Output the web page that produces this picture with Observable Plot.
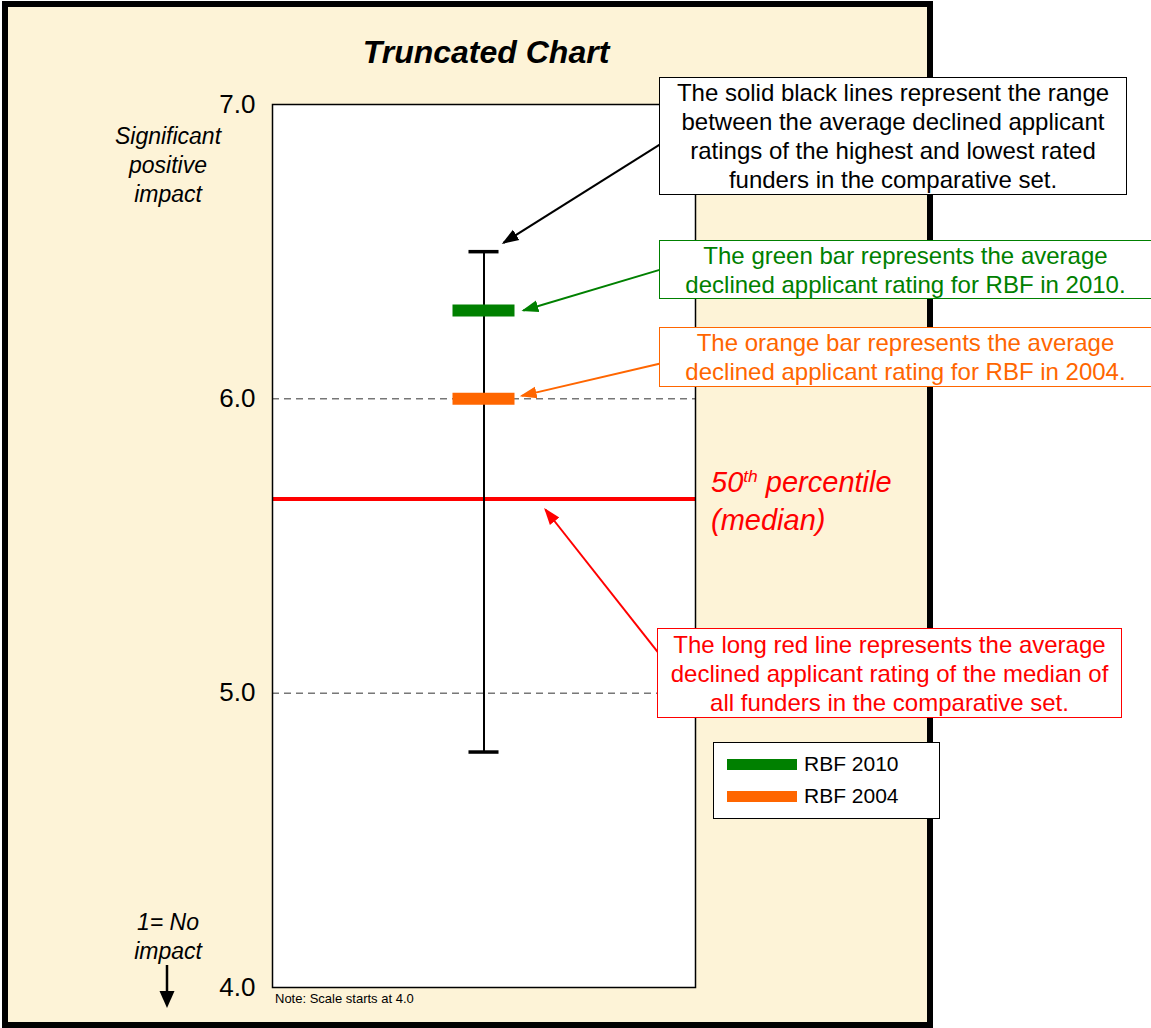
<!DOCTYPE html>
<html>
<head>
<meta charset="utf-8">
<script src="https://cdn.jsdelivr.net/npm/d3@7"></script>
<script src="https://cdn.jsdelivr.net/npm/@observablehq/plot@0.6"></script>
<style>
html,body{margin:0;padding:0;background:#fff;}
#wrap{position:relative;width:1151px;height:1028px;overflow:hidden;font-family:"Liberation Sans",Arial,Helvetica,sans-serif;color:#000;}
#panel{position:absolute;left:2px;top:1px;width:931px;height:1027px;box-sizing:border-box;border:6px solid #000;background:#FDF3D7;}
#chart{position:absolute;left:0;top:0;}
.abs{position:absolute;}
.title{left:0;width:972px;top:33px;text-align:center;font-size:32px;line-height:38px;font-weight:bold;font-style:italic;}
.side{width:200px;left:68px;text-align:center;font-size:23px;line-height:29px;font-style:italic;}
.note{left:275px;top:991px;font-size:13px;line-height:16px;}
.box{position:absolute;box-sizing:border-box;background:#fff;text-align:center;font-size:24px;line-height:29px;display:flex;align-items:center;justify-content:center;white-space:nowrap;}
.median{left:711px;top:463px;font-size:29px;line-height:38px;font-style:italic;color:#FF0000;}
.median sup{font-size:0.6em;line-height:0;vertical-align:0.55em;}
.legend{position:absolute;left:713px;top:742px;width:227px;height:77px;box-sizing:border-box;background:#fff;border:1.5px solid #000;}
.lg-item{position:absolute;left:13px;height:22px;font-size:21px;line-height:22px;}
.lg-sw{position:absolute;left:0;top:5.5px;width:70px;height:11px;}
.lg-tx{position:absolute;left:77px;top:0;white-space:nowrap;}
</style>
</head>
<body>
<div id="wrap">
  <div id="panel"></div>
  <div id="chart"></div>
</div>
<script>
// ---- data ----
const yTicks = [4, 5, 6, 7];
const gridValues = [5, 6];
const seriesNames = ["RBF 2010", "RBF 2004"];
const seriesValues = [6.30, 6.00];
const seriesColors = ["#008000", "#FF6600"];
const rangeHigh = 6.50;
const rangeLow = 4.80;
const medianValue = 5.66;
const titleText = "Truncated Chart";
const noteText = "Note: Scale starts at 4.0";
const boxTexts = [
  ["The solid black lines represent the range", "between the average declined applicant", "ratings of the highest and lowest rated", "funders in the comparative set."],
  ["The green bar represents the average", "declined applicant rating for RBF in 2010."],
  ["The orange bar represents the average", "declined applicant rating for RBF in 2004."],
  ["The long red line represents the average", "declined applicant rating of the median of", "all funders in the comparative set."]
];

// ---- layout (x is a 0..1 position across the plot frame; the single category sits at its centre) ----
const cx = 0.5;
const barHalf = 0.0733;
const capHalf = 0.0355;
const arrows = [
  {x1: 0.920, y1: 6.868, x2: 0.546, y2: rangeHigh + 0.03, color: "#000000"},
  {x1: 0.917, y1: 6.439, x2: 0.593, y2: seriesValues[0], color: seriesColors[0]},
  {x1: 0.917, y1: 6.120, x2: 0.589, y2: seriesValues[1] + 0.01, color: seriesColors[1]},
  {x1: 0.917, y1: 5.128, x2: 0.645, y2: medianValue - 0.036, color: "#FF0000"}
];

const plot = Plot.plot({
  width: 1151,
  height: 1028,
  marginLeft: 272,
  marginRight: 456,
  marginTop: 104,
  marginBottom: 41,
  style: {background: "transparent", fontFamily: "'Liberation Sans', Arial, sans-serif", overflow: "visible"},
  x: {domain: [0, 1], axis: null},
  y: {domain: [4, 7]},
  color: {type: "identity"},
  marks: [
    Plot.frame({fill: "white", stroke: "none"}),
    Plot.ruleY(gridValues, {stroke: "#333", strokeWidth: 1, strokeDasharray: "7,5"}),
    Plot.ruleY([medianValue], {stroke: "#FF0000", strokeWidth: 4}),
    Plot.ruleX([cx], {y1: rangeLow, y2: rangeHigh, stroke: "#000", strokeWidth: 2}),
    Plot.ruleY([rangeLow, rangeHigh], {x1: cx - capHalf, x2: cx + capHalf, stroke: "#000", strokeWidth: 3.5}),
    ...seriesValues.map((v, i) => Plot.ruleY([v], {x1: cx - barHalf, x2: cx + barHalf, stroke: seriesColors[i], strokeWidth: 12})),
    Plot.frame({stroke: "#000", strokeWidth: 1.5}),
    Plot.axisY({ticks: yTicks, tickFormat: d => d.toFixed(1), tickSize: 0, tickPadding: 17, fontSize: 26, label: null, fill: "#000"}),
    Plot.link(arrows, {x1: "x1", y1: "y1", x2: "x2", y2: "y2", stroke: "color", strokeWidth: 2, markerEnd: "arrow"})
  ]
});

// filled arrowheads
d3.select(plot).selectAll("marker").each(function() {
  const m = d3.select(this);
  const color = m.attr("stroke") || "#000";
  m.attr("viewBox", "-16 -7 18 14").attr("markerWidth", 18).attr("markerHeight", 14)
   .attr("markerUnits", "userSpaceOnUse").attr("refX", -1).attr("refY", 0)
   .attr("fill", color).attr("stroke", "none");
  m.selectAll("*").remove();
  m.append("path").attr("d", "M-16,-6L1,0L-16,6Z");
});

document.getElementById("chart").appendChild(plot);

const wrap = document.getElementById("wrap");
function addDiv(cls, html, css) {
  const d = document.createElement("div");
  d.className = cls;
  d.innerHTML = html;
  if (css) Object.assign(d.style, css);
  wrap.appendChild(d);
  return d;
}

addDiv("abs title", titleText);
addDiv("abs side", "Significant<br>positive<br>impact", {top: "122px"});
addDiv("abs side", "1= No<br>impact", {top: "908px"});
addDiv("abs note", noteText);
addDiv("abs median", "50<sup>th</sup> percentile<br>(median)");

// down arrow on the left
const svgNS = "http://www.w3.org/2000/svg";
const da = document.createElementNS(svgNS, "svg");
da.setAttribute("width", "30"); da.setAttribute("height", "60");
da.style.position = "absolute"; da.style.left = "152px"; da.style.top = "960px";
da.innerHTML = '<line x1="15" y1="5" x2="15" y2="34" stroke="#000" stroke-width="2.5"/><path d="M7.5,31L22.5,31L15,48Z" fill="#000"/>';
wrap.appendChild(da);

// annotation boxes
const boxes = [
  {left: 659, top: 77, width: 468, height: 118, color: "#000000", border: "1.5px"},
  {left: 659, top: 240, width: 493, height: 59, color: seriesColors[0], border: "1.5px"},
  {left: 659, top: 327, width: 493, height: 60, color: seriesColors[1], border: "1.5px"},
  {left: 657, top: 628, width: 465, height: 90, color: "#FF0000", border: "1.5px"}
];
boxes.forEach((b, i) => {
  addDiv("box", "<div>" + boxTexts[i].join("<br>") + "</div>", {
    left: b.left + "px", top: b.top + "px", width: b.width + "px", height: b.height + "px",
    border: b.border + " solid " + b.color, color: b.color
  });
});

// legend
const lg = addDiv("legend", "");
seriesNames.forEach((name, i) => {
  const it = document.createElement("div");
  it.className = "lg-item";
  it.style.top = (10 + i * 32) + "px";
  it.innerHTML = '<div class="lg-sw" style="background:' + seriesColors[i] + '"></div><div class="lg-tx">' + name + '</div>';
  lg.appendChild(it);
});
</script>
</body>
</html>
